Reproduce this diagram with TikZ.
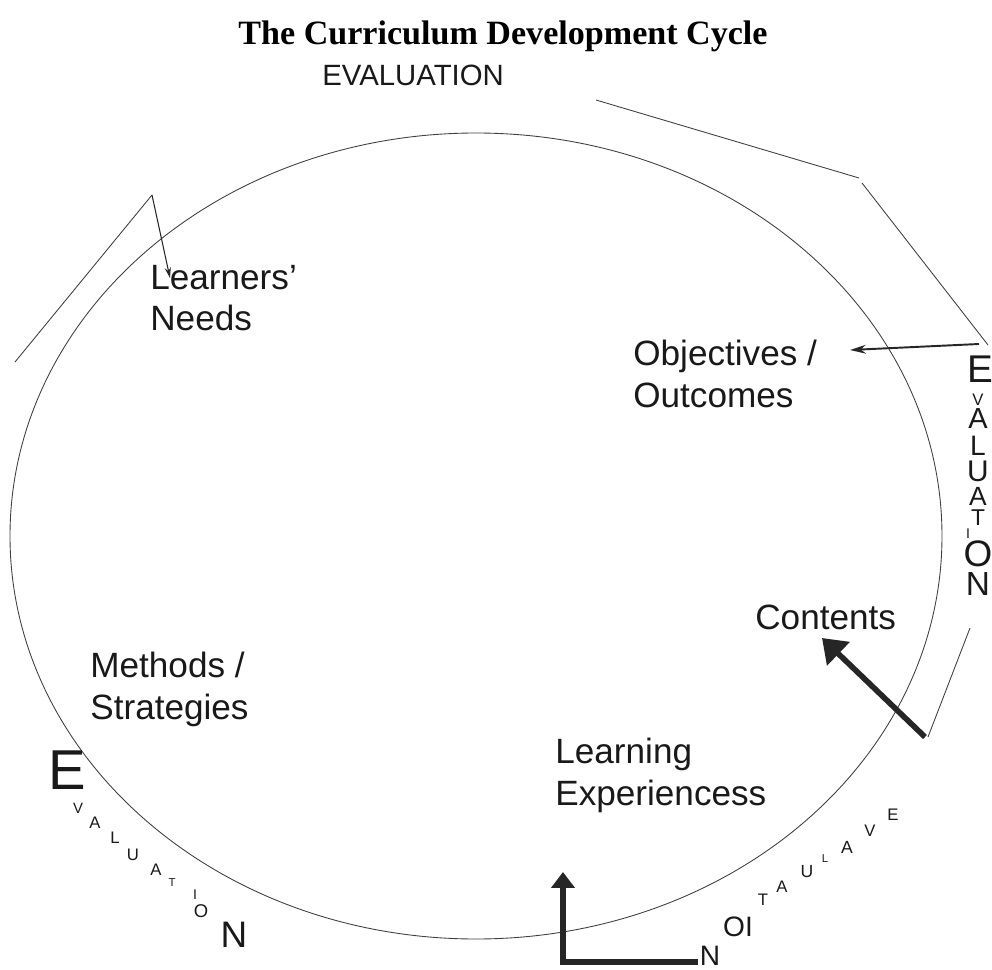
\documentclass[tikz,border=0pt]{standalone}
\usepackage{fontspec}
\setmainfont{Liberation Sans}
\newfontfamily\titlefont{Liberation Serif}
\usetikzlibrary{arrows.meta}

\tikzset{
  thinline/.style={draw=black!75, line width=0.5pt},
  stagetext/.style={anchor=north west, inner sep=0pt, align=left, text=black!90,
    font=\fontsize{20}{23.5}\selectfont},
  ltr/.style={inner sep=0pt, text=black!90},
  thickarrow/.style={draw=black!85, line width=3.2pt},
}

\begin{document}
\begin{tikzpicture}[x=0.02cm, y=-0.02cm]
  \useasboundingbox (0,0) rectangle (992,970);
  % title and the cycle
  \node[font=\titlefont\bfseries\fontsize{19.4}{22}\selectfont] (Ttl) at (503,36)
    {The Curriculum Development Cycle};
  \coordinate (Ctr) at (476,536);
  \draw[thinline] (Ctr) ellipse [x radius=466, y radius=403];
  \node[ltr, anchor=west, font=\fontsize{16.7}{18}\selectfont] (EvTop) at (322,75) {EVALUATION};
  % stages
  \node[stagetext] (Lrn) at (150,265) {Learners'\\Needs};
  \node[stagetext] (Obj) at (633,340) {Objectives /\\Outcomes};
  \node[stagetext] (Cnt) at (755,605) {Contents};
  \node[stagetext] (Mth) at (90,652) {Methods /\\Strategies};
  \node[stagetext] (Exp) at (555,738) {Learning\\Experiencess};
  % scattered evaluation letters
  \foreach \ch/\px/\py/\sz [count=\i] in {E/980/369/22, V/978/400/9.5, A/978/419/16.5,
      L/978/446/16, U/978/471/17, A/978/496/15, T/978/518/13, I/968/534/8,
      O/978/554/21, N/978/584/19}
    \node[ltr, font=\fontsize{\sz}{\sz}\selectfont] (rt\i) at (\px,\py) {\ch};
  \foreach \ch/\px/\py/\sz [count=\i] in {E/67/770/32, V/78/808/8.5, A/95/823/9.5,
      L/115/838/9.5, U/133/855/9.5, A/156/870/9.5, T/172/883/6.5, I/195/895/8,
      O/201/911/10.5, N/234/935/21}
    \node[ltr, font=\fontsize{\sz}{\sz}\selectfont] (lf\i) at (\px,\py) {\ch};
  \foreach \ch/\px/\py/\sz [count=\i] in {N/710/956/16, OI/738/927/16, T/763/900/9.5,
      A/782/887/9.5, U/807/872/10, L/825/859/6.5, A/847/847/10, V/870/831/9.5,
      E/893/815/9.5}
    \node[ltr, font=\fontsize{\sz}{\sz}\selectfont] (bt\i) at (\px,\py) {\ch};
  % outer lines
  \coordinate (la) at (15,362);
  \coordinate (lb) at (152,195);
  \coordinate (lc) at (170,278);
  \coordinate (ta) at (596,100);
  \coordinate (tb) at (859,178);
  \coordinate (tc) at (862,183);
  \coordinate (td) at (988,345);
  \coordinate (oa) at (979,344);
  \coordinate (ob) at (850,350);
  \coordinate (ra) at (970,628);
  \coordinate (rb) at (928,737);
  \coordinate (ca) at (925,737);
  \coordinate (cb) at (822,638);
  \coordinate (ba) at (698,962);
  \coordinate (bb) at (563,962);
  \coordinate (bc) at (563,872);
  \draw[thinline] (la) -- (lb);
  \draw[-{Stealth[length=6pt,width=3.5pt]}, black!85, line width=0.6pt] (lb) -- (lc);
  \draw[thinline] (ta) -- (tb);
  \draw[thinline] (tc) -- (td);
  \draw[-{Stealth[length=9pt,width=5pt]}, black!85, line width=1.1pt] (oa) -- (ob);
  \draw[thinline] (ra) -- (rb);
  \draw[thickarrow, -{Triangle[length=13pt,width=18pt]}] (ca) -- (cb);
  \draw[thickarrow, -{Triangle[length=9pt,width=13pt]}] (ba) -- (bb) -- (bc);
\end{tikzpicture}
\end{document}
